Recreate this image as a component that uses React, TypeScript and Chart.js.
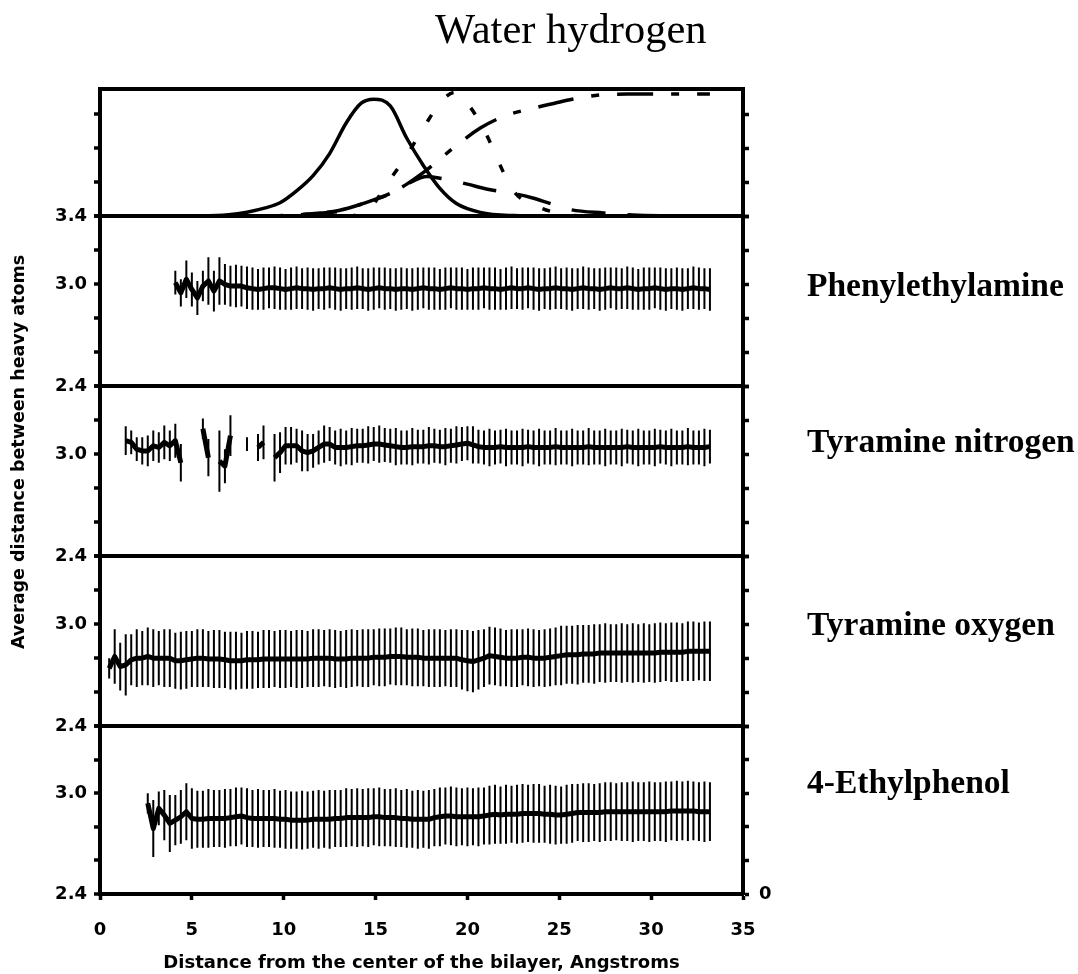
import React, { useEffect, useRef } from 'react';
import { Chart, registerables } from 'chart.js';

Chart.register(...registerables);

// ---------- axes ----------
const X_MIN = 0;
const X_MAX = 35;
const X_STEP = 5;
const PANEL_TICKS = [2.4, 2.6, 2.8, 3.0, 3.2, 3.4];
const TOP_TICKS = [0, 0.2, 0.4, 0.6, 0.75];
const PANEL_NAMES = ['Phenylethylamine', 'Tyramine nitrogen', 'Tyramine oxygen', '4-Ethylphenol'];

// ---------- top panel: density profiles ----------
const SOLID_X = [0, 3, 5, 7, 8, 9, 9.8, 10.7, 11.6, 12.5, 13.4, 14.2, 14.9, 15.8, 16.7, 17.6, 18.5, 19.4, 20.7, 22.5, 25, 28, 33.2];
const SOLID_Y = [0, 0, 0.002, 0.01, 0.025, 0.05, 0.08, 0.15, 0.24, 0.37, 0.55, 0.665, 0.69, 0.65, 0.46, 0.3, 0.165, 0.076, 0.024, 0.005, 0.001, 0, 0];

const DOTTED_X = [10, 13, 14, 14.8, 15.6, 16.2, 16.7, 17.6, 18.6, 19.3, 20.0, 21.0, 21.7, 22.5, 24.0, 25.5, 27, 33.2];
const DOTTED_Y = [0, 0, 0.01, 0.06, 0.19, 0.28, 0.36, 0.52, 0.68, 0.73, 0.665, 0.49, 0.32, 0.15, 0.05, 0.01, 0, 0];

const WATER_X = [8, 10, 12, 13, 14.3, 15.8, 16.7, 17.5, 18.2, 19.2, 20.7, 22, 23.7, 24.7, 25.7, 27.2, 28.7, 30.6, 33.2];
const WATER_Y = [0, 0.005, 0.02, 0.035, 0.075, 0.135, 0.19, 0.25, 0.31, 0.4, 0.52, 0.59, 0.64, 0.665, 0.69, 0.715, 0.72, 0.72, 0.72];

const DASHED_X = [8, 10, 12, 13, 14.3, 15.8, 16.7, 17.8, 18.5, 19.2, 20, 21.1, 22.5, 23.5, 24.4, 25.6, 27.4, 29, 31, 33.2];
const DASHED_Y = [0, 0.005, 0.02, 0.03, 0.075, 0.135, 0.19, 0.235, 0.225, 0.21, 0.19, 0.16, 0.135, 0.11, 0.08, 0.04, 0.02, 0.008, 0.003, 0];

// ---------- lower panels: mean distance and error (bins of 0.3 A) ----------
const BIN = 0.3;

const PEA_START = 4.1;
const PEA_MEAN = [
  3.01, 2.95, 3.03, 2.97, 2.92, 2.99, 3.02, 2.96, 3.02, 3.0,
  2.99, 2.99, 2.99, 2.98, 2.975, 2.97, 2.975, 2.98, 2.98, 2.975,
  2.97, 2.975, 2.98, 2.975, 2.975, 2.97, 2.975, 2.975, 2.98, 2.975,
  2.97, 2.975, 2.975, 2.98, 2.975, 2.97, 2.975, 2.98, 2.975, 2.975,
  2.97, 2.975, 2.975, 2.97, 2.975, 2.98, 2.975, 2.975, 2.97, 2.975,
  2.98, 2.975, 2.975, 2.97, 2.975, 2.975, 2.98, 2.975, 2.975, 2.97,
  2.975, 2.98, 2.975, 2.975, 2.98, 2.975, 2.97, 2.975, 2.975, 2.98,
  2.975, 2.975, 2.97, 2.975, 2.98, 2.975, 2.975, 2.97, 2.975, 2.98,
  2.975, 2.975, 2.98, 2.975, 2.97, 2.975, 2.975, 2.98, 2.975, 2.97,
  2.975, 2.975, 2.97, 2.975, 2.98, 2.975, 2.975, 2.97,
];
const PEA_ERR = [
  0.07, 0.08, 0.11, 0.1, 0.1, 0.09, 0.14, 0.12, 0.14, 0.12,
  0.12, 0.125, 0.12, 0.125, 0.125, 0.12, 0.125, 0.12, 0.125, 0.125,
  0.12, 0.125, 0.125, 0.12, 0.125, 0.125, 0.12, 0.125, 0.12, 0.125,
  0.125, 0.12, 0.125, 0.125, 0.12, 0.125, 0.125, 0.12, 0.125, 0.12,
  0.125, 0.125, 0.12, 0.125, 0.125, 0.12, 0.125, 0.125, 0.12, 0.125,
  0.12, 0.125, 0.125, 0.12, 0.125, 0.125, 0.12, 0.125, 0.125, 0.12,
  0.125, 0.125, 0.12, 0.125, 0.12, 0.125, 0.125, 0.12, 0.125, 0.125,
  0.12, 0.125, 0.125, 0.12, 0.125, 0.125, 0.12, 0.125, 0.125, 0.12,
  0.125, 0.12, 0.125, 0.125, 0.12, 0.125, 0.125, 0.12, 0.125, 0.125,
  0.12, 0.125, 0.125, 0.12, 0.125, 0.125, 0.12, 0.125,
];

const TYRN_START = 1.4;
const TYRN_MEAN: (number | null)[] = [
  3.08, 3.07, 3.03, 3.02, 3.02, 3.05, 3.04, 3.07, 3.05, 3.08,
  2.95, null, null, null, 3.15, 2.98, null, 2.96, 2.93, 3.11,
  null, null, 3.06, null, 3.04, 3.07, null, 2.98, 3.01, 3.05,
  3.05, 3.05, 3.02, 3.01, 3.02, 3.04, 3.06, 3.06, 3.04, 3.04,
  3.04, 3.045, 3.05, 3.05, 3.055, 3.06, 3.06, 3.055, 3.05, 3.045,
  3.04, 3.04, 3.045, 3.045, 3.045, 3.05, 3.05, 3.045, 3.045, 3.05,
  3.055, 3.06, 3.065, 3.055, 3.045, 3.04, 3.04, 3.04, 3.045, 3.04,
  3.04, 3.04, 3.04, 3.045, 3.04, 3.04, 3.04, 3.04, 3.045, 3.04,
  3.04, 3.04, 3.04, 3.04, 3.045, 3.04, 3.04, 3.04, 3.04, 3.04,
  3.04, 3.045, 3.04, 3.04, 3.04, 3.04, 3.04, 3.045, 3.04, 3.04,
  3.04, 3.04, 3.045, 3.04, 3.04, 3.04, 3.045,
];
const TYRN_ERR = [
  0.085, 0.07, 0.07, 0.08, 0.09, 0.09, 0.09, 0.1, 0.09, 0.1,
  0.11, 0, 0, 0, 0.06, 0.11, 0, 0.18, 0.1, 0.12,
  0, 0, 0.04, 0, 0.08, 0.1, 0, 0.14, 0.12, 0.11,
  0.11, 0.1, 0.12, 0.11, 0.1, 0.1, 0.11, 0.1, 0.1, 0.11,
  0.1, 0.11, 0.1, 0.1, 0.11, 0.1, 0.11, 0.1, 0.1, 0.11,
  0.1, 0.1, 0.11, 0.1, 0.1, 0.11, 0.1, 0.1, 0.11, 0.1,
  0.11, 0.1, 0.1, 0.11, 0.1, 0.1, 0.11, 0.1, 0.1, 0.11,
  0.1, 0.1, 0.11, 0.1, 0.1, 0.11, 0.1, 0.1, 0.11, 0.1,
  0.1, 0.11, 0.1, 0.1, 0.11, 0.1, 0.1, 0.11, 0.1, 0.1,
  0.11, 0.1, 0.1, 0.11, 0.1, 0.1, 0.11, 0.1, 0.1, 0.11,
  0.1, 0.1, 0.11, 0.1, 0.1, 0.11, 0.1,
];

const TYRO_START = 0.5;
const TYRO_MEAN = [
  2.74, 2.81, 2.75, 2.76, 2.79, 2.8, 2.8, 2.81, 2.8, 2.8,
  2.8, 2.8, 2.785, 2.785, 2.79, 2.795, 2.8, 2.8, 2.795, 2.795,
  2.795, 2.79, 2.785, 2.785, 2.785, 2.79, 2.79, 2.79, 2.795, 2.795,
  2.795, 2.795, 2.795, 2.795, 2.795, 2.795, 2.795, 2.8, 2.8, 2.8,
  2.8, 2.795, 2.795, 2.795, 2.8, 2.8, 2.8, 2.8, 2.805, 2.805,
  2.805, 2.81, 2.81, 2.81, 2.805, 2.805, 2.805, 2.8, 2.8, 2.8,
  2.8, 2.8, 2.8, 2.8, 2.79, 2.785, 2.78, 2.79, 2.8, 2.815,
  2.81, 2.805, 2.8, 2.8, 2.8, 2.805, 2.805, 2.8, 2.8, 2.8,
  2.805, 2.81, 2.815, 2.82, 2.82, 2.82, 2.825, 2.825, 2.825, 2.83,
  2.83, 2.83, 2.83, 2.83, 2.83, 2.83, 2.83, 2.83, 2.83, 2.83,
  2.835, 2.835, 2.835, 2.835, 2.835, 2.84, 2.84, 2.84, 2.84, 2.84,
];
const TYRO_ERR = [
  0.06, 0.16, 0.14, 0.18, 0.15, 0.17, 0.16, 0.17, 0.17, 0.16,
  0.17, 0.17, 0.165, 0.17, 0.17, 0.165, 0.17, 0.17, 0.165, 0.17,
  0.17, 0.165, 0.17, 0.17, 0.165, 0.17, 0.17, 0.165, 0.17, 0.17,
  0.165, 0.17, 0.17, 0.165, 0.17, 0.17, 0.165, 0.17, 0.17, 0.165,
  0.17, 0.17, 0.165, 0.17, 0.17, 0.165, 0.17, 0.17, 0.165, 0.17,
  0.17, 0.165, 0.17, 0.17, 0.165, 0.17, 0.17, 0.165, 0.17, 0.17,
  0.17, 0.165, 0.17, 0.17, 0.175, 0.18, 0.18, 0.175, 0.17, 0.17,
  0.17, 0.17, 0.165, 0.17, 0.17, 0.165, 0.17, 0.17, 0.165, 0.17,
  0.17, 0.17, 0.175, 0.17, 0.17, 0.175, 0.17, 0.17, 0.175, 0.17,
  0.175, 0.17, 0.17, 0.175, 0.17, 0.175, 0.17, 0.175, 0.17, 0.175,
  0.175, 0.17, 0.175, 0.175, 0.17, 0.175, 0.175, 0.17, 0.175, 0.175,
];

const EP_START = 2.6;
const EP_MEAN = [
  2.94, 2.79, 2.91, 2.87, 2.82, 2.84, 2.86, 2.89, 2.85, 2.845,
  2.845, 2.85, 2.85, 2.85, 2.85, 2.855, 2.86, 2.865, 2.855, 2.85,
  2.85, 2.85, 2.85, 2.85, 2.845, 2.845, 2.84, 2.84, 2.84, 2.84,
  2.845, 2.845, 2.845, 2.845, 2.85, 2.85, 2.855, 2.855, 2.855, 2.855,
  2.855, 2.86, 2.86, 2.855, 2.855, 2.855, 2.85, 2.85, 2.845, 2.845,
  2.845, 2.845, 2.855, 2.86, 2.865, 2.865, 2.86, 2.86, 2.86, 2.86,
  2.86, 2.865, 2.87, 2.875, 2.87, 2.875, 2.875, 2.875, 2.88, 2.88,
  2.88, 2.88, 2.875, 2.875, 2.87, 2.87, 2.875, 2.88, 2.885, 2.885,
  2.885, 2.885, 2.885, 2.89, 2.89, 2.89, 2.89, 2.89, 2.89, 2.89,
  2.89, 2.89, 2.89, 2.89, 2.89, 2.895, 2.895, 2.895, 2.895, 2.895,
  2.89, 2.89, 2.89,
];
const EP_ERR = [
  0.06, 0.17, 0.1, 0.15, 0.17, 0.15, 0.16, 0.17, 0.18, 0.17,
  0.17, 0.175, 0.17, 0.17, 0.175, 0.17, 0.175, 0.17, 0.175, 0.17,
  0.175, 0.17, 0.17, 0.175, 0.17, 0.175, 0.17, 0.17, 0.175, 0.17,
  0.17, 0.175, 0.17, 0.175, 0.17, 0.17, 0.175, 0.17, 0.175, 0.17,
  0.175, 0.17, 0.175, 0.17, 0.17, 0.175, 0.17, 0.175, 0.17, 0.175,
  0.17, 0.175, 0.17, 0.175, 0.17, 0.175, 0.175, 0.17, 0.175, 0.17,
  0.175, 0.17, 0.175, 0.175, 0.17, 0.175, 0.17, 0.175, 0.175, 0.17,
  0.175, 0.175, 0.17, 0.175, 0.175, 0.17, 0.175, 0.175, 0.17, 0.175,
  0.175, 0.17, 0.175, 0.175, 0.175, 0.17, 0.175, 0.175, 0.18, 0.175,
  0.175, 0.18, 0.175, 0.175, 0.18, 0.175, 0.18, 0.175, 0.18, 0.175,
  0.175, 0.18, 0.175,
];

// ---------- helpers that build library data from the arrays ----------
const binX = (start: number, i: number) => Math.round((start + i * BIN) * 10) / 10;
const pairs = (xs: number[], ys: number[]) => xs.map((x, i) => ({ x, y: ys[i] }));
const meanPoints = (start: number, mean: (number | null)[]) => mean.map((m, i) => ({ x: binX(start, i), y: m }));
const errPoints = (start: number, mean: (number | null)[], err: number[]) => {
  const out: { x: number; y: number | null }[] = [];
  mean.forEach((m, i) => {
    if (m === null || !err[i]) return;
    const x = binX(start, i);
    out.push({ x, y: m - err[i] }, { x, y: m + err[i] }, { x, y: null });
  });
  return out;
};

const SANS = "'DejaVu Sans', 'Liberation Sans', sans-serif";
const SERIF = "'Liberation Serif', 'Times New Roman', serif";
const TICK_FONT = { family: SANS, size: 18, weight: 'bold' as const };

const leftAxis = (min: number, max: number, ticks: number[], stackWeight: number, weight: number, labels: number[], topLine: number) => ({
  type: 'linear' as const,
  position: 'left' as const,
  stack: 'L',
  stackWeight,
  weight,
  min,
  max,
  afterBuildTicks: (s: any) => { s.ticks = ticks.map((v) => ({ value: v })); },
  afterFit: (s: any) => { s.width = 92; },
  border: { display: true, color: '#000', width: 4 },
  grid: {
    drawOnChartArea: true,
    color: '#000',
    lineWidth: (c: any) => (c.tick && c.tick.value === max ? topLine : 0),
    tickColor: (c: any) => (c.tick && c.tick.value === 0.75 ? 'rgba(0,0,0,0)' : '#000'),
    tickLength: 6,
    tickWidth: 3.5,
  },
  ticks: {
    autoSkip: false,
    padding: 7,
    color: '#000',
    font: TICK_FONT,
    callback: (v: any) => (labels.includes(v) ? Number(v).toFixed(1) : ''),
  },
});

const rightAxis = (min: number, max: number, ticks: number[], stackWeight: number, weight: number, zeroAt: number | null) => ({
  type: 'linear' as const,
  position: 'right' as const,
  stack: 'R',
  stackWeight,
  weight,
  min,
  max,
  afterBuildTicks: (s: any) => { s.ticks = ticks.map((v) => ({ value: v })); },
  afterFit: (s: any) => { s.width = 40; },
  border: { display: true, color: '#000', width: 4 },
  grid: {
    drawOnChartArea: false,
    color: '#000',
    tickColor: (c: any) => (c.tick && c.tick.value === 0.75 ? 'rgba(0,0,0,0)' : '#000'),
    tickLength: 6,
    tickWidth: 3.5,
  },
  ticks: {
    autoSkip: false,
    padding: 10,
    color: '#000',
    font: TICK_FONT,
    callback: (v: any) => (zeroAt !== null && v === zeroAt ? '0' : ''),
  },
});

const profile = (xs: number[], ys: number[], dash: number[]) => ({
  type: 'line' as const,
  data: pairs(xs, ys),
  yAxisID: 'yT',
  borderColor: '#000',
  borderWidth: 3.5,
  borderDash: dash,
  borderCapStyle: 'butt' as const,
  pointRadius: 0,
  cubicInterpolationMode: 'monotone' as const,
  order: 0,
});

const meanLine = (axis: string, start: number, mean: (number | null)[]) => ({
  type: 'line' as const,
  data: meanPoints(start, mean),
  yAxisID: axis,
  borderColor: '#000',
  borderWidth: 5,
  pointRadius: 0,
  tension: 0,
  spanGaps: false,
  borderJoinStyle: 'round' as const,
  order: 0,
});

const errLine = (axis: string, start: number, mean: (number | null)[], err: number[]) => ({
  type: 'line' as const,
  data: errPoints(start, mean, err),
  yAxisID: axis,
  borderColor: '#000',
  borderWidth: 2,
  pointRadius: 0,
  tension: 0,
  spanGaps: false,
  borderCapStyle: 'butt' as const,
  order: 1,
});

export default function App() {
  const ref = useRef<HTMLCanvasElement>(null);

  useEffect(() => {
    if (!ref.current) return;
    const chart = new Chart(ref.current, {
      type: 'line',
      data: {
        datasets: [
          profile(SOLID_X, SOLID_Y, []),
          profile(DOTTED_X, DOTTED_Y, [8, 24]),
          profile(WATER_X, WATER_Y, [36, 18, 8, 18]),
          profile(DASHED_X, DASHED_Y, [34, 22]),
          meanLine('y1', PEA_START, PEA_MEAN),
          errLine('y1', PEA_START, PEA_MEAN, PEA_ERR),
          meanLine('y2', TYRN_START, TYRN_MEAN),
          errLine('y2', TYRN_START, TYRN_MEAN, TYRN_ERR),
          meanLine('y3', TYRO_START, TYRO_MEAN),
          errLine('y3', TYRO_START, TYRO_MEAN, TYRO_ERR),
          meanLine('y4', EP_START, EP_MEAN),
          errLine('y4', EP_START, EP_MEAN, EP_ERR),
        ] as any,
      },
      options: {
        animation: false,
        responsive: false,
        devicePixelRatio: 1,
        layout: { padding: { left: 8, right: 295, top: 89, bottom: 0 } },
        plugins: { legend: { display: false }, tooltip: { enabled: false }, title: { display: false } },
        events: [],
        scales: {
          x: {
            type: 'linear',
            position: 'bottom',
            min: X_MIN,
            max: X_MAX,
            afterFit: (s: any) => { s.height = 80; },
            border: { display: true, color: '#000', width: 4 },
            grid: { drawOnChartArea: false, color: '#000', tickColor: '#000', tickLength: 6, tickWidth: 3.5 },
            ticks: { stepSize: X_STEP, padding: 20, color: '#000', font: TICK_FONT, autoSkip: false, maxRotation: 0 },
            title: {
              display: true,
              text: 'Distance from the center of the bilayer, Angstroms',
              color: '#000',
              font: { family: SANS, size: 18, weight: 'bold' },
              padding: { top: 0, bottom: 0 },
            },
          },
          yT: leftAxis(0, 0.75, TOP_TICKS, 127.5, 5, [], 4) as any,
          y1: leftAxis(2.4, 3.4, PANEL_TICKS, 170, 4, [2.4, 3.0, 3.4], 4) as any,
          y2: leftAxis(2.4, 3.4, PANEL_TICKS, 170, 3, [2.4, 3.0], 4) as any,
          y3: leftAxis(2.4, 3.4, PANEL_TICKS, 170, 2, [2.4, 3.0], 4) as any,
          y4: leftAxis(2.4, 3.4, PANEL_TICKS, 168, 1, [2.4, 3.0], 4) as any,
          rT: rightAxis(0, 0.75, TOP_TICKS, 127.5, 1, null) as any,
          r1: rightAxis(2.4, 3.4, PANEL_TICKS, 170, 2, null) as any,
          r2: rightAxis(2.4, 3.4, PANEL_TICKS, 170, 3, null) as any,
          r3: rightAxis(2.4, 3.4, PANEL_TICKS, 170, 4, null) as any,
          r4: rightAxis(2.4, 3.4, PANEL_TICKS, 168, 5, 2.4) as any,
        },
      },
    });
    return () => chart.destroy();
  }, []);

  const labelTops = [268, 424, 607, 765];

  return (
    <div style={{ position: 'absolute', left: 0, top: 0, width: 1078, height: 974, background: '#fff', overflow: 'hidden' }}>
      <canvas ref={ref} width={1078} height={974} style={{ position: 'absolute', left: 0, top: 0, width: 1078, height: 974 }} />
      <div style={{ position: 'absolute', left: 435, top: 8, fontFamily: SERIF, fontSize: 42.5, lineHeight: '42px', whiteSpace: 'nowrap', color: '#000' }}>
        Water hydrogen
      </div>
      <div
        style={{
          position: 'absolute', left: 18 - 250, top: 452 - 11, width: 500, height: 22, lineHeight: '22px',
          textAlign: 'center', transform: 'rotate(-90deg)', fontFamily: SANS, fontWeight: 'bold', fontSize: 17.5,
          whiteSpace: 'nowrap', color: '#000',
        }}
      >
        Average distance between heavy atoms
      </div>
      {PANEL_NAMES.map((name, i) => (
        <div
          key={name}
          style={{ position: 'absolute', left: 807, top: labelTops[i], fontFamily: SERIF, fontWeight: 'bold', fontSize: 33.5, lineHeight: '33px', whiteSpace: 'nowrap', color: '#000' }}
        >
          {name}
        </div>
      ))}
    </div>
  );
}
